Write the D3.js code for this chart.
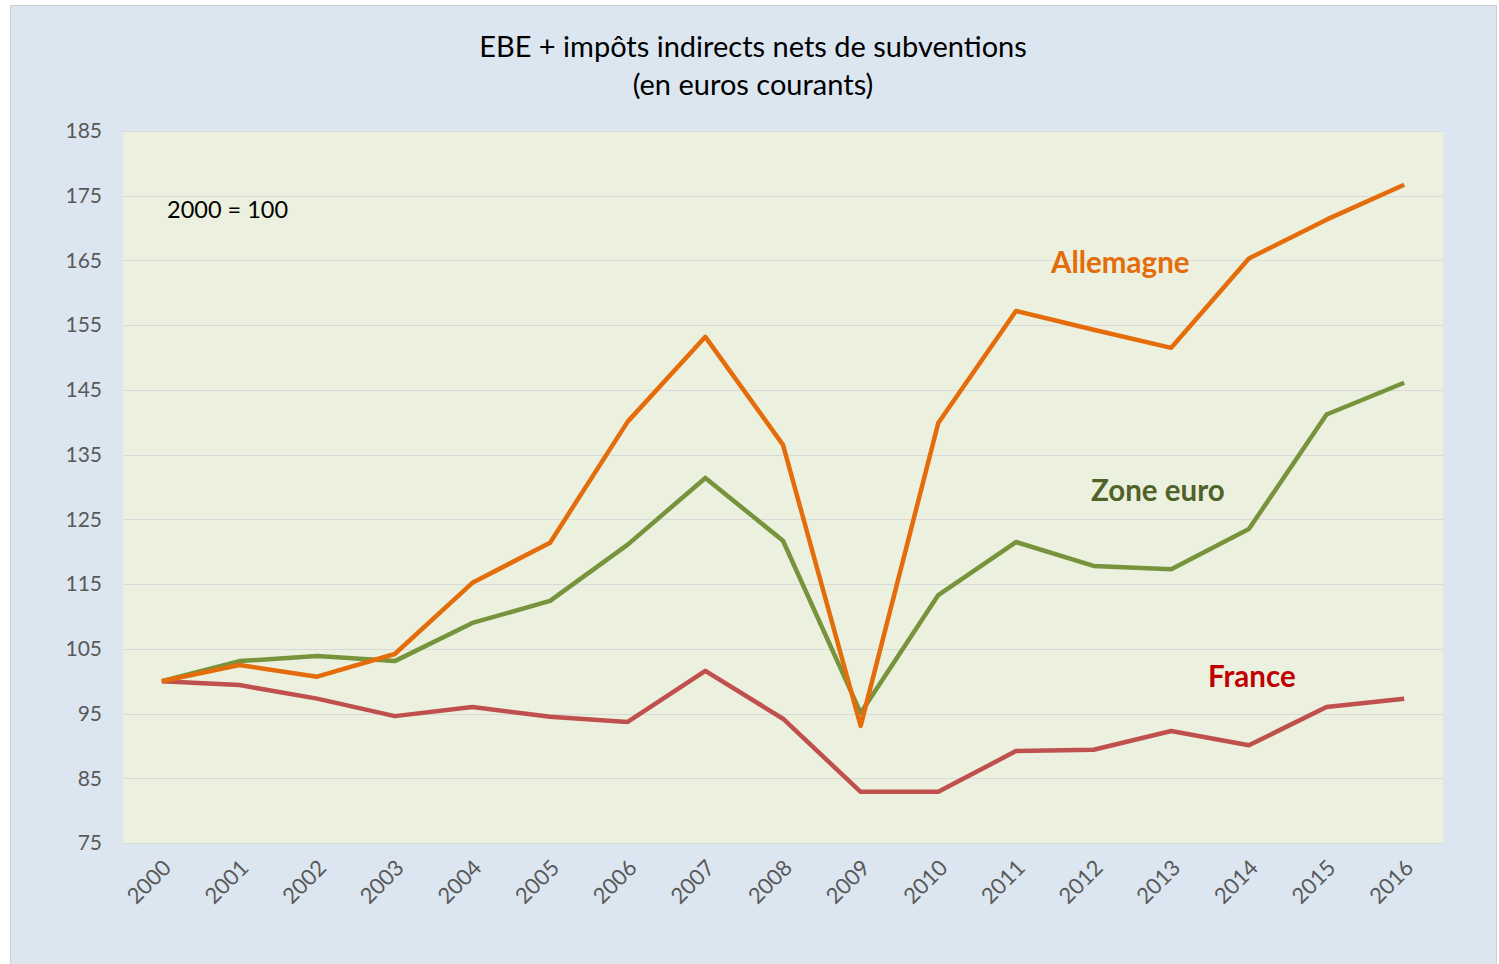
<!DOCTYPE html>
<html>
<head>
<meta charset="utf-8">
<script src="https://cdn.jsdelivr.net/npm/d3@7"></script>
<style>
  body { margin: 0; background: #fff; }
  svg { display: block; font-family: Lato, "Open Sans", sans-serif; }
</style>
</head>
<body>
<div id="chart"></div>
<script>
var years = ["2000", "2001", "2002", "2003", "2004", "2005", "2006", "2007", "2008",
             "2009", "2010", "2011", "2012", "2013", "2014", "2015", "2016"];
var allemagne = [100, 102.5, 100.7, 104.2, 115.2, 121.4, 140.1, 153.2, 136.5,
                 93.1, 139.9, 157.2, 154.3, 151.5, 165.3, 171.3, 176.7];
var zoneEuro = [100, 103.1, 103.9, 103.1, 109, 112.4, 121.1, 131.4, 121.7,
                95.1, 113.3, 121.5, 117.8, 117.3, 123.5, 141.2, 146.1];
var france = [100, 99.4, 97.3, 94.6, 96, 94.5, 93.7, 101.6, 94.2,
              82.9, 82.9, 89.2, 89.4, 92.3, 90.1, 96, 97.3];
var yTicks = [75, 85, 95, 105, 115, 125, 135, 145, 155, 165, 175, 185];

var width = 1499, height = 964;
var plot = { left: 123, top: 131, right: 1443, bottom: 843 };

var svg = d3.select("#chart").append("svg")
    .attr("width", width)
    .attr("height", height);

// outer chart area
svg.append("rect")
    .attr("x", 10.5).attr("y", 5.5)
    .attr("width", 1486).attr("height", 970)
    .attr("fill", "#dce6f1")
    .attr("stroke", "#d0d0d0");

svg.append("rect")
    .attr("x", plot.left).attr("y", plot.top)
    .attr("width", plot.right - plot.left)
    .attr("height", plot.bottom - plot.top)
    .attr("fill", "#ebf1de");

var x = d3.scalePoint()
    .domain(years)
    .range([plot.left, plot.right])
    .padding(0.5);

var y = d3.scaleLinear()
    .domain([75, 185])
    .range([plot.bottom, plot.top]);

// grid lines
svg.append("g")
    .selectAll("line")
    .data(yTicks)
    .enter()
    .append("line")
    .attr("x1", plot.left).attr("x2", plot.right)
    .attr("y1", function (d) { return Math.round(y(d)) + 0.5; })
    .attr("y2", function (d) { return Math.round(y(d)) + 0.5; })
    .attr("stroke", "#d9d9d9")
    .attr("stroke-width", 1);

// y axis labels
var yAxis = svg.append("g")
    .attr("transform", "translate(" + (plot.left - 21) + ",0)")
    .call(d3.axisLeft(y).tickValues(yTicks).tickSize(0).tickPadding(0));
yAxis.select(".domain").remove();
yAxis.selectAll("text")
    .attr("fill", "#595959")
    .attr("font-size", "21px")
    .attr("font-family", "Lato, sans-serif");

// x axis labels
var xAxis = svg.append("g")
    .attr("transform", "translate(0," + plot.bottom + ")")
    .call(d3.axisBottom(x).tickSize(0));
xAxis.select(".domain").remove();
xAxis.selectAll("text")
    .attr("fill", "#595959")
    .attr("font-size", "22px")
    .attr("font-family", "Lato, sans-serif")
    .attr("text-anchor", "end")
    .attr("dy", "0")
    .attr("transform", "translate(8,24) rotate(-45)");

var line = d3.line()
    .x(function (d, i) { return x(years[i]); })
    .y(function (d) { return y(d); });

var series = [
    { name: "France", values: france, color: "#c0504d" },
    { name: "Zone euro", values: zoneEuro, color: "#77933c" },
    { name: "Allemagne", values: allemagne, color: "#e46c0a" }
];

svg.append("g")
    .selectAll("path")
    .data(series)
    .enter()
    .append("path")
    .attr("d", function (d) { return line(d.values); })
    .attr("fill", "none")
    .attr("stroke", function (d) { return d.color; })
    .attr("stroke-width", 4.5)
    .attr("stroke-linejoin", "round");

// title
var title = svg.append("text")
    .attr("x", 753)
    .attr("text-anchor", "middle")
    .attr("fill", "#000")
    .attr("font-size", "29px");
title.append("tspan").attr("x", 753).attr("y", 57).text("EBE + impôts indirects nets de subventions");
title.append("tspan").attr("x", 753).attr("y", 95).text("(en euros courants)");

svg.append("text")
    .attr("x", 167).attr("y", 218)
    .attr("font-size", "23.5px")
    .attr("fill", "#000")
    .text("2000 = 100");

// series labels
var labels = [
    { text: "Allemagne", x: 1051, y: 273, color: "#e46c0a" },
    { text: "Zone euro", x: 1091, y: 501, color: "#4f6228" },
    { text: "France", x: 1208, y: 687, color: "#c00000" }
];
svg.append("g")
    .selectAll("text")
    .data(labels)
    .enter()
    .append("text")
    .attr("x", function (d) { return d.x; })
    .attr("y", function (d) { return d.y; })
    .attr("fill", function (d) { return d.color; })
    .attr("font-size", "29.5px")
    .attr("font-weight", "bold")
    .text(function (d) { return d.text; });
</script>
</body>
</html>
